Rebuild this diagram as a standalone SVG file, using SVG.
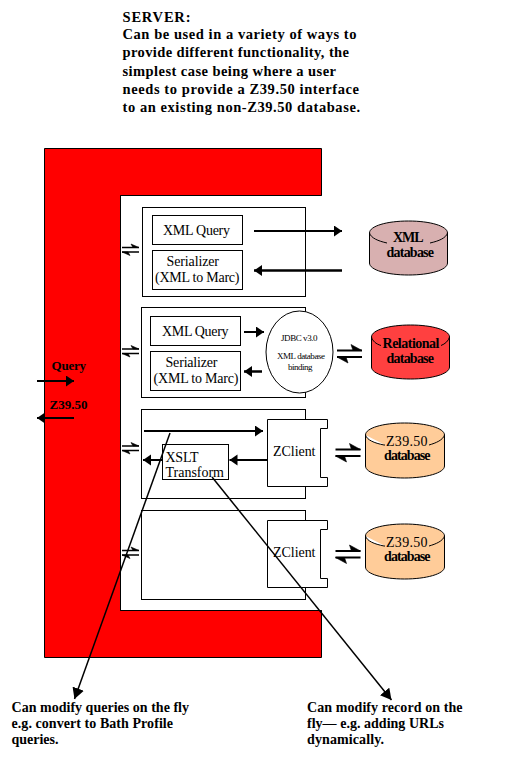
<svg xmlns="http://www.w3.org/2000/svg" width="508" height="762" viewBox="0 0 508 762">
<style>
text{font-family:"Liberation Serif","Times New Roman",serif;fill:#000;font-size:14px}
.b{font-weight:bold}
.t{font-weight:bold;font-size:14.5px}
.s{font-size:9px}
.box{fill:#fff;stroke:#000;stroke-width:1}
.cyl{stroke:#000;stroke-width:1}
.arc{fill:none;stroke:#000;stroke-width:1}
.a2{fill:none;stroke:#000;stroke-width:2}
.a3{fill:none;stroke:#000;stroke-width:2.5}
.d{fill:none;stroke:#000;stroke-width:1.5}
</style>
<defs>
<marker id="h" markerUnits="userSpaceOnUse" markerWidth="9" markerHeight="12" refX="8" refY="5.5" orient="auto"><path d="M0,0L8,5.5L0,11z" fill="#000"/></marker>
<marker id="big" markerUnits="userSpaceOnUse" markerWidth="12" markerHeight="13" refX="11" refY="6" orient="auto"><path d="M0,0L11,6L0,12z" fill="#000"/></marker>
<g id="sw"><path d="M0,0H17M0,4.500H17" stroke="#000" stroke-width="1.6" fill="none"/><path d="M17,0L9,-3.500L11,0zM0,4.500L8,8L6,4.500z" fill="#000" stroke="#000" stroke-width=".6"/></g>
<g id="swl"><path d="M0,0H25M0,6.500H25" stroke="#000" stroke-width="2.200" fill="none"/><path d="M25,0L14,-6L16,0zM0,6.500L11,12.500L9,6.500z" fill="#000" stroke="#000" stroke-width=".6"/></g>
</defs>
<rect width="508" height="762" fill="#fff"/>
<g id="title">
<text class="t" x="122.500" y="22" textLength="68" lengthAdjust="spacing">SERVER:</text>
<text class="t" x="122.500" y="39" textLength="234" lengthAdjust="spacing">Can be used in a variety of ways to</text>
<text class="t" x="122.500" y="57" textLength="226.500" lengthAdjust="spacing">provide different functionality, the</text>
<text class="t" x="122.500" y="76" textLength="213.500" lengthAdjust="spacing">simplest case being where a user</text>
<text class="t" x="122.500" y="94" textLength="236.500" lengthAdjust="spacing">needs to provide a Z39.50 interface</text>
<text class="t" x="122.500" y="112" textLength="237.500" lengthAdjust="spacing">to an existing non-Z39.50 database.</text>
</g>
<g id="server">
<path d="M44.500,148.500H321.500V195.500H120.500V610.500H321.500V657.500H44.500z" fill="#f00" stroke="#000"/>
<path d="M121,196H508V610H121z" fill="#fff"/>
<path d="M321.500,195.500H120.500V610.500H321.500" fill="none" stroke="#000"/>
<text class="b" x="51.500" y="370" textLength="34.500" lengthAdjust="spacing" style="font-size:13px">Query</text>
<text class="b" x="49.500" y="409" textLength="38" lengthAdjust="spacing" style="font-size:13px">Z39.50</text>
</g>
<g id="row1">
<rect class="box" x="142.500" y="207.500" width="163" height="89"/>
<rect class="box" x="152.500" y="215.500" width="90" height="29"/>
<text x="163" y="235" textLength="67" lengthAdjust="spacing">XML Query</text>
<rect class="box" x="152.500" y="250.500" width="90" height="39"/>
<text x="166.500" y="266" textLength="52.500" lengthAdjust="spacing">Serializer</text>
<text x="155" y="281.500" textLength="84.500" lengthAdjust="spacing">(XML to Marc)</text>
</g>
<g id="row2">
<rect class="box" x="141.500" y="307.500" width="164" height="90"/>
<rect class="box" x="150.500" y="316.500" width="90" height="29"/>
<text x="162" y="336" textLength="66.500" lengthAdjust="spacing">XML Query</text>
<rect class="box" x="150.500" y="351.500" width="90" height="39"/>
<text x="165.500" y="366.500" textLength="52" lengthAdjust="spacing">Serializer</text>
<text x="153.500" y="382.500" textLength="85" lengthAdjust="spacing">(XML to Marc)</text>
</g>
<g id="jdbc">
<ellipse class="box" cx="299.500" cy="352" rx="33.500" ry="41"/>
<text class="s" x="281" y="341" textLength="36.500" lengthAdjust="spacing">JDBC v3.0</text>
<text class="s" x="277" y="358.500" textLength="48" lengthAdjust="spacing">XML database</text>
<text class="s" x="288" y="369.500" textLength="24.500" lengthAdjust="spacing">binding</text>
</g>
<g id="row3">
<rect class="box" x="141.500" y="409.500" width="164" height="89"/>
<rect class="box" x="162.500" y="444.500" width="66" height="35"/>
<text x="165.500" y="462" textLength="33" lengthAdjust="spacing">XSLT</text>
<text x="165.500" y="477" textLength="58.500" lengthAdjust="spacing">Transform</text>
</g>
<g id="row4">
<rect class="box" x="141.500" y="510.500" width="164" height="89"/>
</g>
<g id="zclient1">
<path class="box" d="M267.500,419.500H327.500V428.500H320.500V477.500H327.500V486.500H267.500z"/>
<text x="273" y="455.500" textLength="42.500" lengthAdjust="spacing">ZClient</text>
</g>
<g id="zclient2">
<path class="box" d="M267.500,520.500H327.500V529.500H320.500V578.500H327.500V587.500H267.500z"/>
<text x="273" y="556.500" textLength="42.500" lengthAdjust="spacing">ZClient</text>
</g>
<g id="db-xml">
<path class="cyl" fill="#d8b0b0" d="M369.500,233C369.500,226 387,221 408.500,221S447.500,226 447.500,233V263C447.500,270 430,275 408.500,275S369.500,270 369.500,263z"/>
<path class="arc" d="M369.500,233C371,238 378,241 387,243M447.500,233C446,238 439,241 430,243"/>
<text class="b" x="393" y="241.500" textLength="30.500" lengthAdjust="spacing">XML</text>
<text class="b" x="386.500" y="256.500" textLength="47.500" lengthAdjust="spacing">database</text>
</g>
<g id="db-relational">
<path class="cyl" fill="#ff4040" d="M371.500,337C371.500,330 389,325 410.500,325S449.500,330 449.500,337V367C449.500,374 432,379 410.500,379S371.500,374 371.500,367z"/>
<path class="arc" d="M371.500,337C372.500,341 376,344 381,345.500M449.500,337C448.500,341 445,344 441,345.500"/>
<text class="b" x="382.500" y="347.500" textLength="57" lengthAdjust="spacing">Relational</text>
<text class="b" x="386.500" y="362.500" textLength="47.500" lengthAdjust="spacing">database</text>
</g>
<g id="db-z1">
<path class="cyl" fill="#ffcc99" d="M365.500,435C367,440 374,443 384,445H385M444.500,435C443,440 436,443 429,445M365.500,435C365.500,428 383,423 404.500,423S444.500,428 444.500,435V466C444.500,473 426,478 404.500,478S365.500,473 365.500,466z"/>
<text x="386" y="445.500" textLength="41.500" lengthAdjust="spacing">Z39.50</text>
<text class="b" x="384" y="459.500" textLength="46.500" lengthAdjust="spacing">database</text>
</g>
<g id="db-z2">
<path class="cyl" fill="#ffcc99" d="M365.500,536C367,541 374,544 384,546H385M444.500,536C443,541 436,544 429,546M365.500,536C365.500,529 383,524 404.500,524S444.500,529 444.500,536V567C444.500,574 426,579 404.500,579S365.500,574 365.500,567z"/>
<text x="386" y="546.500" textLength="41.500" lengthAdjust="spacing">Z39.50</text>
<text class="b" x="384" y="560.500" textLength="46.500" lengthAdjust="spacing">database</text>
</g>
<g id="notes">
<text class="b" x="11.500" y="712" textLength="177.500" lengthAdjust="spacing">Can modify queries on the fly</text>
<text class="b" x="11.500" y="728" textLength="161.500" lengthAdjust="spacing">e.g. convert to Bath Profile</text>
<text class="b" x="11.500" y="744" textLength="47" lengthAdjust="spacing">queries.</text>
<text class="b" x="307" y="712" textLength="155.500" lengthAdjust="spacing">Can modify record on the</text>
<text class="b" x="307" y="728" textLength="137" lengthAdjust="spacing">fly— e.g. adding URLs</text>
<text class="b" x="307" y="744" textLength="77" lengthAdjust="spacing">dynamically.</text>
</g>
<g id="connectors">
<path class="a2" d="M254,231H342" marker-end="url(#h)"/>
<path class="a3" d="M342,270.500H254" marker-end="url(#h)"/>
<path class="a2" d="M244,332H264" marker-end="url(#h)"/>
<path class="a3" d="M262,371.500H244" marker-end="url(#h)"/>
<path class="a2" d="M37,381H74" marker-end="url(#h)"/>
<path class="a2" d="M74,418H37" marker-end="url(#h)"/>
<path class="a2" d="M144,431H263" marker-end="url(#h)"/>
<path class="a2" d="M162,460H143" marker-end="url(#h)"/>
<path class="a2" d="M267.500,460H229.500" marker-end="url(#h)"/>
<use href="#sw" x="122" y="247.500"/>
<use href="#sw" x="122" y="349"/>
<use href="#sw" x="122" y="446"/>
<use href="#sw" x="122" y="550.500"/>
<use href="#swl" x="337" y="350.500"/>
<use href="#swl" x="335.500" y="449.500"/>
<use href="#swl" x="335.500" y="551"/>
<path class="d" d="M170,433L74.500,699" marker-end="url(#big)"/>
<path class="d" d="M212,477L391.500,700" marker-end="url(#big)"/>
</g>
</svg>
